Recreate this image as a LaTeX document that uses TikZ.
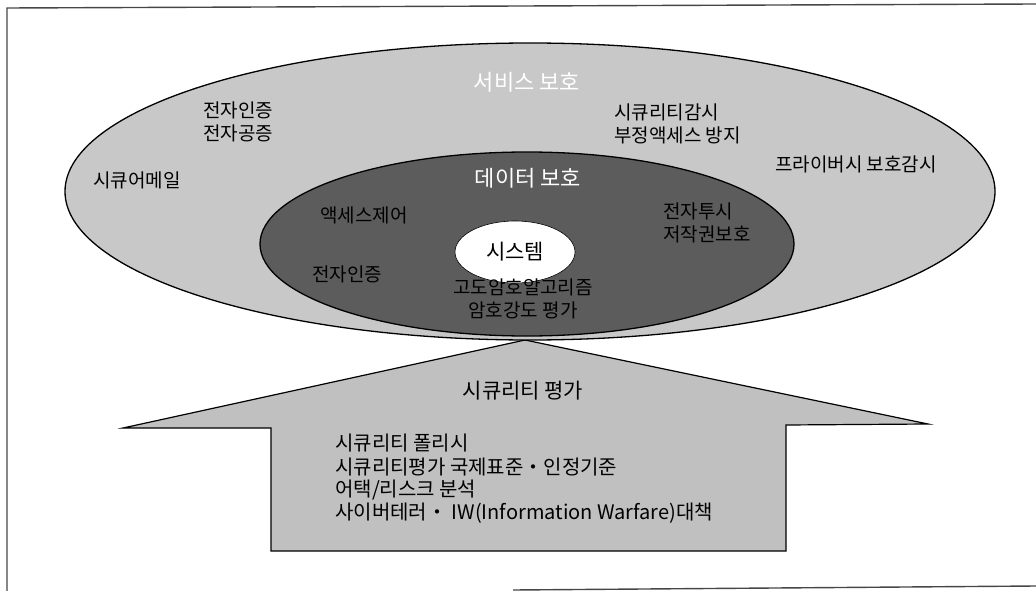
\documentclass[tikz,border=0pt]{standalone}
\usepackage{fontspec}
\setmainfont{Noto Sans CJK KR}
\usetikzlibrary{shapes.geometric}
\definecolor{outergray}{RGB}{200,200,200}
\definecolor{innergray}{RGB}{92,92,92}
\definecolor{arrowgray}{RGB}{192,192,192}
\definecolor{framegray}{RGB}{70,70,70}
\tikzset{
  ring/.style={ellipse, draw=black, line width=1.3pt, inner sep=0pt},
  lbl/.style={font=\fontsize{19}{21}\selectfont, inner sep=0pt, text=black},
  lstl/.style={font=\fontsize{20}{22}\selectfont, inner sep=0pt, text=black, anchor=west},
  lblw/.style={font=\fontsize{22}{24}\selectfont, inner sep=0pt, text=white},
  frameline/.style={draw=framegray, line width=1.4pt},
}
\begin{document}
\begin{tikzpicture}[x=1pt,y=-1pt]
\useasboundingbox (0,0) rectangle (1036,591);
% frame
\coordinate (f1) at (1036,4);
\coordinate (f2) at (7,8);
\coordinate (f3) at (7,591);
\coordinate (f4) at (513,590);
\coordinate (f5) at (1036,586);
\draw[frameline] (f1) -- (f2) -- (f3);
\draw[frameline] (f4) -- (f5);
% arrow
\draw[fill=arrowgray, draw=black, line width=1.2pt, line join=miter]
  (525,340) -- (928,424) -- (786,425) -- (786,551) -- (271,551) -- (271,428) -- (123,428) -- cycle;
% ellipses
\node[ring, fill=outergray, minimum width=930, minimum height=297] (outer) at (530,191.5) {};
\node[ring, fill=innergray, minimum width=534, minimum height=184] (inner) at (527,244) {};
\node[ellipse, fill=white, draw=black, line width=0.6pt, minimum width=120, minimum height=62, inner sep=0pt] (sys) at (515,252) {};
% labels outer
\node[lblw] (svc) at (527,82) {서비스 보호};
\node[lbl] (ea1) at (238,110) {전자인증};
\node[lbl] (ea2) at (238,133) {전자공증};
\node[lbl, anchor=west] (sm1) at (614,112) {시큐리티감시};
\node[lbl, anchor=west] (sm2) at (614,135) {부정액세스 방지};
\node[lbl] (priv) at (856,164) {프라이버시 보호감시};
\node[lbl] (mail) at (137,180) {시큐어메일};
% labels inner
\node[lblw] (data) at (528,178) {데이터 보호};
\node[lbl] (acc) at (364,215) {액세스제어};
\node[lbl, anchor=west] (ev1) at (663,211) {전자투시};
\node[lbl, anchor=west] (ev2) at (663,234) {저작권보호};
\node[lbl] (ea3) at (347,274) {전자인증};
\node[lbl] (alg1) at (523,287) {고도암호알고리즘};
\node[lbl] (alg2) at (523,310) {암호강도 평가};
\node[font=\fontsize{21}{23}\selectfont, inner sep=0pt] (systxt) at (sys) {시스템};
% arrow labels
\node[font=\fontsize{21}{23}\selectfont, inner sep=0pt] (eval) at (523,391) {시큐리티 평가};
\node[lstl] (l1) at (335,443) {시큐리티 폴리시};
\node[lstl] (l2) at (335,467) {시큐리티평가 국제표준・인정기준};
\node[lstl] (l3) at (335,490) {어택/리스크 분석};
\node[lstl] (l4) at (335,513) {사이버테러・ IW(Information Warfare)대책};
\end{tikzpicture}
\end{document}
